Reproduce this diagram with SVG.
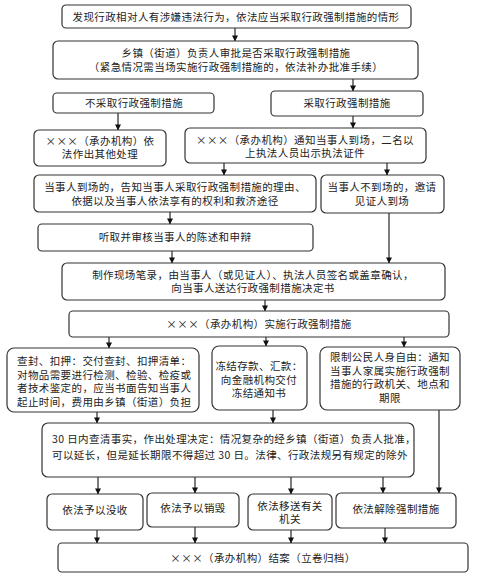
<svg xmlns="http://www.w3.org/2000/svg" width="493" height="587" viewBox="0 0 493 587">
<defs>
<marker id="ah" viewBox="0 0 8 8" refX="7.5" refY="4" markerWidth="6" markerHeight="6" orient="auto" markerUnits="userSpaceOnUse">
<path d="M0,0 L8,4 L0,8 z" fill="#111"/>
</marker>
<style>
.b rect{fill:#fff;stroke:#333;stroke-width:1.2}
text{font-family:"Noto Sans CJK SC","Noto Sans",sans-serif;font-size:10.5px;letter-spacing:0.4px;fill:#222}
.m{text-anchor:middle}
#conn path{fill:none;stroke:#111;stroke-width:1.1;marker-end:url(#ah)}
</style>
</defs>
<rect width="493" height="587" fill="#fff"/>
<g id="conn">
<path d="M235,28 V41"/>
<path d="M353,79 V91"/>
<path d="M118,113 V130"/>
<path d="M353,116 V128"/>
<path d="M224,163 V175"/>
<path d="M387,163 V175"/>
<path d="M170,212 V224"/>
<path d="M389,213 V263"/>
<path d="M172,251 V263"/>
<path d="M265,300 V311"/>
<path d="M109,337 V348"/>
<path d="M266,337 V346"/>
<path d="M404,337 V347"/>
<path d="M97,412 V423"/>
<path d="M273,410 V423"/>
<path d="M439,410 V493"/>
<path d="M98,477 V494"/>
<path d="M195,477 V493"/>
<path d="M291,477 V494"/>
<path d="M383,477 V493"/>
<path d="M97,530 V543"/>
<path d="M195,527 V543"/>
<path d="M291,530 V543"/>
<path d="M385,528 V543"/>
</g>
<g id="n1" class="b"><rect x="62" y="5" width="349" height="23" rx="4"/><text class="m" x="236" y="20.5">发现行政相对人有涉嫌违法行为，依法应当采取行政强制措施的情形</text></g>
<g id="n2" class="b"><rect x="53" y="41" width="365" height="38" rx="5"/><text class="m" x="236" y="57">乡镇（街道）负责人审批是否采取行政强制措施</text><text class="m" x="236" y="70.5">（紧急情况需当场实施行政强制措施的，依法补办批准手续）</text></g>
<g id="n3" class="b"><rect x="53" y="93" width="161" height="20" rx="4"/><text class="m" x="134" y="107">不采取行政强制措施</text></g>
<g id="n4" class="b"><rect x="271" y="91" width="152" height="25" rx="4"/><text class="m" x="347" y="107">采取行政强制措施</text></g>
<g id="n5" class="b"><rect x="34" y="130" width="132" height="36" rx="5"/><text class="m" x="100" y="144.5">×××（承办机构）依</text><text class="m" x="100" y="158">法作出其他处理</text></g>
<g id="n6" class="b"><rect x="185" y="128" width="241" height="35" rx="5"/><text class="m" x="305" y="143.5">×××（承办机构）通知当事人到场，二名以</text><text class="m" x="305" y="157">上执法人员出示执法证件</text></g>
<g id="n7" class="b"><rect x="34" y="175" width="282" height="37" rx="5"/><text class="m" x="175" y="191">当事人到场的，告知当事人采取行政强制措施的理由、</text><text class="m" x="175" y="204.5">依据以及当事人依法享有的权利和救济途径</text></g>
<g id="n8" class="b"><rect x="321" y="175" width="123" height="38" rx="5"/><text class="m" x="382" y="191">当事人不到场的，邀请</text><text class="m" x="382" y="204.5">见证人到场</text></g>
<g id="n9" class="b"><rect x="38" y="224" width="275" height="27" rx="4"/><text class="m" x="175" y="241">听取并审核当事人的陈述和申辩</text></g>
<g id="n10" class="b"><rect x="62" y="263" width="383" height="37" rx="5"/><text class="m" x="253" y="278.5">制作现场笔录，由当事人（或见证人）、执法人员签名或盖章确认，</text><text class="m" x="253" y="292">向当事人送达行政强制措施决定书</text></g>
<g id="n11" class="b"><rect x="69" y="311" width="380" height="26" rx="4"/><text class="m" x="259" y="327.5">×××（承办机构）实施行政强制措施</text></g>
<g id="n12" class="b"><rect x="7" y="348" width="192" height="64" rx="7"/><text x="17" y="365">查封、扣押：交付查封、扣押清单：</text><text x="17" y="378.5">对物品需要进行检测、检验、检疫或</text><text x="17" y="392">者技术鉴定的，应当书面告知当事人</text><text x="17" y="405.5">起止时间，费用由乡镇（街道）负担</text></g>
<g id="n13" class="b"><rect x="212" y="346" width="95" height="64" rx="7"/><text class="m" x="259" y="370">冻结存款、汇款：</text><text class="m" x="259" y="383.5">向金融机构交付</text><text class="m" x="259" y="397">冻结通知书</text></g>
<g id="n14" class="b"><rect x="320" y="347" width="140" height="63" rx="7"/><text class="m" x="390" y="361">限制公民人身自由：通知</text><text class="m" x="390" y="374.5">当事人家属实施行政强制</text><text class="m" x="390" y="388">措施的行政机关、地点和</text><text class="m" x="390" y="401.5">期限</text></g>
<g id="n15" class="b"><rect x="42" y="423" width="372" height="54" rx="6"/><text x="52" y="443">30 日内查清事实，作出处理决定：情况复杂的经乡镇（街道）负责人批准，</text><text x="52" y="459">可以延长，但是延长期限不得超过 30 日。法律、行政法规另有规定的除外</text></g>
<g id="n16" class="b"><rect x="47" y="494" width="96" height="36" rx="5"/><text class="m" x="95" y="514">依法予以没收</text></g>
<g id="n17" class="b"><rect x="147" y="493" width="92" height="34" rx="5"/><text class="m" x="193" y="512">依法予以销毁</text></g>
<g id="n18" class="b"><rect x="248" y="494" width="84" height="36" rx="5"/><text class="m" x="290" y="509.5">依法移送有关</text><text class="m" x="290" y="523">机关</text></g>
<g id="n19" class="b"><rect x="336" y="493" width="120" height="35" rx="5"/><text class="m" x="396" y="513">依法解除强制措施</text></g>
<g id="n20" class="b"><rect x="58" y="543" width="410" height="29" rx="4"/><text class="m" x="263" y="562">×××（承办机构）结案（立卷归档）</text></g>
</svg>
